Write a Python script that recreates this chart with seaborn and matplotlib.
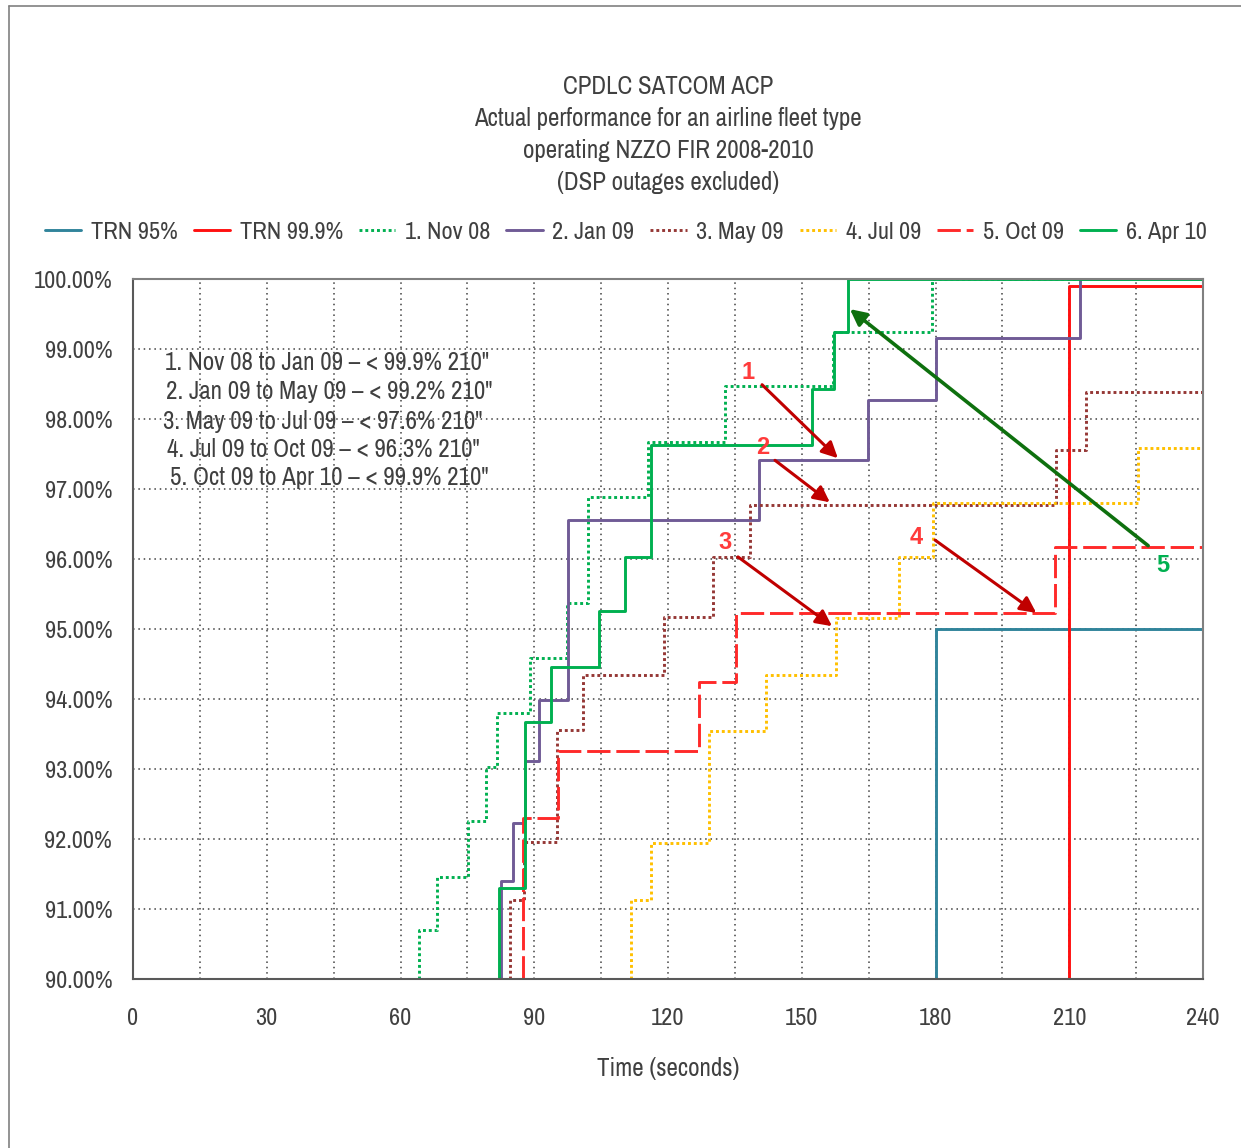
import numpy as np
import pandas as pd
import matplotlib
matplotlib.use("Agg")
import matplotlib.pyplot as plt
from matplotlib import font_manager
from matplotlib.lines import Line2D
from matplotlib.ticker import MultipleLocator, FuncFormatter
import seaborn as sns

sns.set_style("white")

# pick a narrow sans face if one is installed
narrow_family, narrow_stretch = None, "normal"
for f in font_manager.fontManager.ttflist:
    n = f.name.lower()
    if "narrow" in n or "condensed" in n:
        narrow_family, narrow_stretch = f.name, f.stretch
        break
if narrow_family is None:
    for f in font_manager.fontManager.ttflist:
        if f.stretch in ("condensed", "semi-condensed") and f.style == "normal":
            narrow_family, narrow_stretch = f.name, f.stretch
            break
if narrow_family is None:
    narrow_family = "Roboto"
plt.rcParams["font.family"] = [narrow_family, "DejaVu Sans"]
plt.rcParams["font.stretch"] = narrow_stretch
plt.rcParams["font.size"] = 18
text_grey = "#404040"

# series: time (s) at which each step is reached, and cumulative % reached
series_names = ["TRN 95%", "TRN 99.9%", "1. Nov 08", "2. Jan 09",
                "3. May 09", "4. Jul 09", "5. Oct 09", "6. Apr 10"]

trn95_t = [180]
trn95_p = [95.0]
trn999_t = [210]
trn999_p = [99.9]
nov08_t = [64.2, 68.2, 75.1, 79.2, 81.6, 89.1, 97.3, 102.1, 115.5, 132.8, 157.0, 179.2]
nov08_p = [90.70, 91.46, 92.26, 93.03, 93.80, 94.59, 95.37, 96.89, 97.67, 98.47, 99.24, 100.0]
jan09_t = [82.5, 85.3, 88.0, 91.1, 97.6, 140.5, 164.8, 180.2, 212.5]
jan09_p = [91.40, 92.23, 93.11, 93.99, 96.56, 97.41, 98.27, 99.16, 100.0]
may09_t = [84.5, 87.6, 95.0, 101.0, 119.0, 130.2, 138.3, 207.0, 213.8]
may09_p = [91.13, 91.96, 93.56, 94.34, 95.17, 96.03, 96.77, 97.56, 98.39]
jul09_t = [111.8, 116.2, 129.2, 142.0, 157.6, 171.8, 179.5, 225.4]
jul09_p = [91.13, 91.94, 93.54, 94.34, 95.16, 96.03, 96.80, 97.59]
oct09_t = [87.5, 95.4, 127.0, 135.2, 206.8]
oct09_p = [92.30, 93.26, 94.24, 95.23, 96.17]
apr10_t = [82.0, 88.0, 93.8, 104.5, 110.4, 116.1, 152.2, 157.2, 160.3]
apr10_p = [91.30, 93.67, 94.46, 95.26, 96.03, 97.63, 98.43, 99.24, 100.0]

notes = ['1. Nov 08 to Jan 09 \u2013 < 99.9% 210"',
         '2. Jan 09 to May 09 \u2013 < 99.2% 210"',
         '3. May 09 to Jul 09 \u2013 < 97.6% 210"',
         '4. Jul 09 to Oct 09 \u2013 < 96.3% 210"',
         '5. Oct 09 to Apr 10 \u2013 < 99.9% 210"']

all_t = [trn95_t, trn999_t, nov08_t, jan09_t, may09_t, jul09_t, oct09_t, apr10_t]
all_p = [trn95_p, trn999_p, nov08_p, jan09_p, may09_p, jul09_p, oct09_p, apr10_p]

rows = []
for name, ts, ps in zip(series_names, all_t, all_p):
    xs = [ts[0]] + ts + [240]
    ys = [90.0] + ps + [ps[-1]]
    for x, y in zip(xs, ys):
        rows.append({"series": name, "Time (seconds)": x, "pct": y})
df = pd.DataFrame(rows)

palette = {"TRN 95%": "#31849B", "TRN 99.9%": "#FF1010", "1. Nov 08": "#00B050",
           "2. Jan 09": "#705B96", "3. May 09": "#953735", "4. Jul 09": "#FFC000",
           "5. Oct 09": "#FF2A2A", "6. Apr 10": "#00B050"}
dashes = {"TRN 95%": "", "TRN 99.9%": "", "1. Nov 08": (1, 1),
          "2. Jan 09": "", "3. May 09": (1, 1), "4. Jul 09": (1, 1),
          "5. Oct 09": (8, 2), "6. Apr 10": ""}

fig = plt.figure(figsize=(12.41, 11.48), dpi=100)
ax = fig.add_axes([133 / 1241, 1 - 979 / 1148, 1070 / 1241, 700 / 1148])

sns.lineplot(data=df, x="Time (seconds)", y="pct", hue="series", style="series",
             hue_order=series_names, style_order=series_names,
             palette=palette, dashes=dashes, estimator=None, sort=False,
             drawstyle="steps-post", linewidth=2.1, ax=ax)

ax.set_xlim(0, 240)
ax.set_ylim(90, 100)
ax.xaxis.set_major_locator(MultipleLocator(30))
ax.xaxis.set_minor_locator(MultipleLocator(15))
ax.yaxis.set_major_locator(MultipleLocator(1))
ax.yaxis.set_major_formatter(FuncFormatter(lambda v, p: "%.2f%%" % v))
ax.grid(True, which="both", linestyle=(0, (1, 2.5)), color="#404040", linewidth=1.1)
ax.tick_params(axis="both", which="major", direction="out", length=8, width=1.3,
               color="#595959", labelcolor=text_grey, labelsize=17.5)
ax.tick_params(axis="x", which="major", pad=13)
ax.tick_params(axis="y", which="major", pad=7)
ax.tick_params(which="minor", length=0)
for s in ["left", "bottom"]:
    ax.spines[s].set_color("#595959")
    ax.spines[s].set_linewidth(1.5)
for s in ["top", "right"]:
    ax.spines[s].set_color("#808080")
    ax.spines[s].set_linewidth(1.5)
ax.set_xlabel("Time (seconds)", color=text_grey, fontsize=18, labelpad=20)
ax.set_ylabel("")

# legend in one row above the plot
old = ax.get_legend()
handles = old.legend_handles
labels = [t.get_text() for t in old.get_texts()]
old.remove()
fig.legend(handles, labels, loc="center", bbox_to_anchor=(626 / 1241, 1 - 232 / 1148),
           ncol=8, frameon=False, fontsize=17.5, handlelength=1.5, handletextpad=0.4,
           columnspacing=0.65, labelcolor=text_grey)

# title
title = ["CPDLC SATCOM ACP", "Actual performance for an airline fleet type",
         "operating NZZO FIR 2008-2010", "(DSP outages excluded)"]
for i, line in enumerate(title):
    fig.text(668 / 1241, 1 - (87 + i * 31.7) / 1148, line, ha="center", va="center",
             fontsize=18, color=text_grey)

# note text inside the plot
note_pos = [(7.2, 98.81), (7.4, 98.39), (6.7, 97.97), (7.6, 97.56), (8.3, 97.16)]
for (x, y), s in zip(note_pos, notes):
    ax.text(x, y, s, ha="left", va="center", fontsize=18, color=text_grey)

# arrows
arrows = [((141.1, 98.49), (158.1, 97.44), "1", (138.0, 98.67)),
          ((144.0, 97.41), (156.3, 96.81), "2", (141.3, 97.59)),
          ((135.7, 96.03), (156.8, 95.04), "3", (132.8, 96.24)),
          ((179.9, 96.27), (202.6, 95.23), "4", (175.6, 96.31))]
for tail, head, lab, lpos in arrows:
    ax.annotate("", xy=head, xytext=tail,
                arrowprops=dict(arrowstyle="-|>", color="#C00000", lw=2.2,
                                mutation_scale=24, shrinkA=0, shrinkB=0))
    ax.text(lpos[0], lpos[1], lab, ha="center", va="center", fontsize=17,
            fontweight="bold", family="Liberation Sans", color="#FF3B3B")
ax.annotate("", xy=(160.8, 99.57), xytext=(227.7, 96.19),
            arrowprops=dict(arrowstyle="-|>", color="#0E700E", lw=2.6,
                            mutation_scale=24, shrinkA=0, shrinkB=0))
ax.text(231.0, 95.91, "5", ha="center", va="center", fontsize=17,
        fontweight="bold", family="Liberation Sans", color="#00B050")

# outer frame of the figure
fig.add_artist(Line2D([8.5 / 1241, 8.5 / 1241], [0, 1 - 5.5 / 1148],
                      transform=fig.transFigure, color="#808080", lw=1.2))
fig.add_artist(Line2D([8.5 / 1241, 1], [1 - 5.5 / 1148, 1 - 5.5 / 1148],
                      transform=fig.transFigure, color="#808080", lw=1.2))

fig.savefig("out.png", dpi=100)
